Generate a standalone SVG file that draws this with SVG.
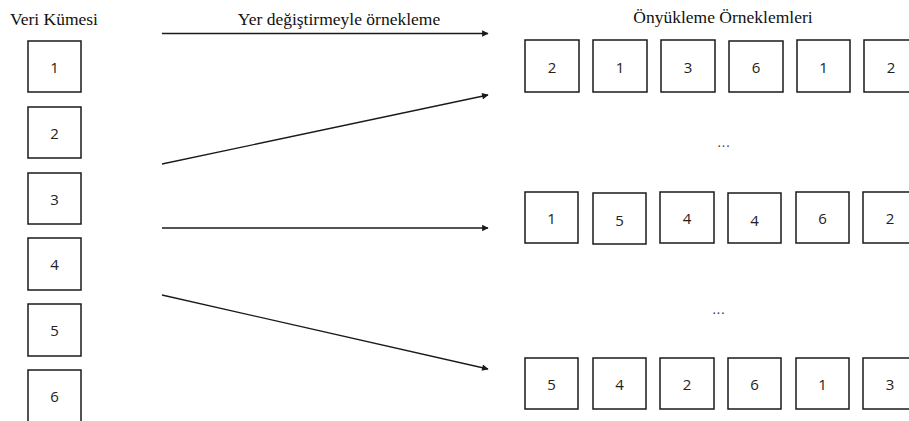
<svg xmlns="http://www.w3.org/2000/svg" width="909" height="421" viewBox="0 0 909 421">
  <style>
    .box rect { fill: #ffffff; stroke: #1a1a1a; stroke-width: 1.5; }
    .box text { font-family: "Open Sans", "Liberation Sans", sans-serif; font-size: 15px; fill: #222222; text-anchor: middle; }
    .title { font-family: "Liberation Serif", "Times New Roman", serif; font-size: 17.5px; fill: #111111; }
    .dots { font-family: "Open Sans", "Liberation Sans", sans-serif; font-size: 13px; fill: #333333; text-anchor: middle; letter-spacing: 1px; }
    .conn line { stroke: #1a1a1a; stroke-width: 1.3; marker-end: url(#head); }
  </style>
  <defs>
    <marker id="head" viewBox="0 0 10 10" refX="9" refY="5" markerWidth="6" markerHeight="5" markerUnits="strokeWidth" orient="auto">
      <path d="M0,0 L10,5 L0,10 z" fill="#1a1a1a"/>
    </marker>
  </defs>
  <rect width="909" height="421" fill="#ffffff"/>

  <!-- headings -->
  <text class="title" x="10" y="25">Veri Kümesi</text>
  <text class="title" x="339" y="25" text-anchor="middle">Yer değiştirmeyle örnekleme</text>
  <text class="title" x="723" y="23" text-anchor="middle">Önyükleme Örneklemleri</text>

  <!-- data set column -->
  <g id="data-1" class="box"><rect x="28" y="41" width="53" height="51"/><text x="54.5" y="73">1</text></g>
  <g id="data-2" class="box"><rect x="28" y="107" width="53" height="51"/><text x="54.5" y="139">2</text></g>
  <g id="data-3" class="box"><rect x="28" y="173" width="53" height="51"/><text x="54.5" y="205">3</text></g>
  <g id="data-4" class="box"><rect x="28" y="238" width="53" height="52"/><text x="54.5" y="270">4</text></g>
  <g id="data-5" class="box"><rect x="28" y="304" width="53" height="52"/><text x="54.5" y="336">5</text></g>
  <g id="data-6" class="box"><rect x="28" y="370" width="53" height="60"/><text x="54.5" y="402">6</text></g>

  <!-- connectors -->
  <g id="connectors" class="conn">
    <line x1="162" y1="33.5" x2="488" y2="33.5"/>
    <line x1="162" y1="164" x2="488" y2="95"/>
    <line x1="162" y1="228" x2="488" y2="228"/>
    <line x1="162" y1="295" x2="488" y2="369"/>
  </g>

  <!-- bootstrap sample 1 -->
  <g id="s1-1" class="box"><rect x="525" y="40" width="54" height="52"/><text x="552" y="73">2</text></g>
  <g id="s1-2" class="box"><rect x="593" y="40" width="54" height="52"/><text x="620" y="73">1</text></g>
  <g id="s1-3" class="box"><rect x="661" y="40" width="54" height="52"/><text x="688" y="73">3</text></g>
  <g id="s1-4" class="box"><rect x="729" y="41" width="54" height="51"/><text x="756" y="73">6</text></g>
  <g id="s1-5" class="box"><rect x="797" y="40" width="53" height="52"/><text x="823.5" y="73">1</text></g>
  <g id="s1-6" class="box"><rect x="864" y="40" width="54" height="52"/><text x="891" y="73">2</text></g>

  <text class="dots" x="724" y="147">...</text>

  <!-- bootstrap sample 2 -->
  <g id="s2-1" class="box"><rect x="525" y="192" width="53" height="51"/><text x="551.5" y="224">1</text></g>
  <g id="s2-2" class="box"><rect x="593" y="193" width="53" height="51"/><text x="619.5" y="226">5</text></g>
  <g id="s2-3" class="box"><rect x="660" y="192" width="54" height="51"/><text x="687" y="224">4</text></g>
  <g id="s2-4" class="box"><rect x="728" y="193" width="53" height="50"/><text x="754.5" y="226">4</text></g>
  <g id="s2-5" class="box"><rect x="796" y="192" width="53" height="51"/><text x="822.5" y="224">6</text></g>
  <g id="s2-6" class="box"><rect x="863" y="192" width="54" height="51"/><text x="890" y="224">2</text></g>

  <text class="dots" x="719" y="314">...</text>

  <!-- bootstrap sample 3 -->
  <g id="s3-1" class="box"><rect x="525" y="358" width="53" height="51"/><text x="551.5" y="390">5</text></g>
  <g id="s3-2" class="box"><rect x="593" y="358" width="53" height="51"/><text x="619.5" y="390">4</text></g>
  <g id="s3-3" class="box"><rect x="660" y="358" width="54" height="51"/><text x="687" y="390">2</text></g>
  <g id="s3-4" class="box"><rect x="728" y="358" width="53" height="51"/><text x="754.5" y="390">6</text></g>
  <g id="s3-5" class="box"><rect x="796" y="358" width="53" height="51"/><text x="822.5" y="390">1</text></g>
  <g id="s3-6" class="box"><rect x="863" y="358" width="54" height="51"/><text x="890" y="390">3</text></g>
</svg>
